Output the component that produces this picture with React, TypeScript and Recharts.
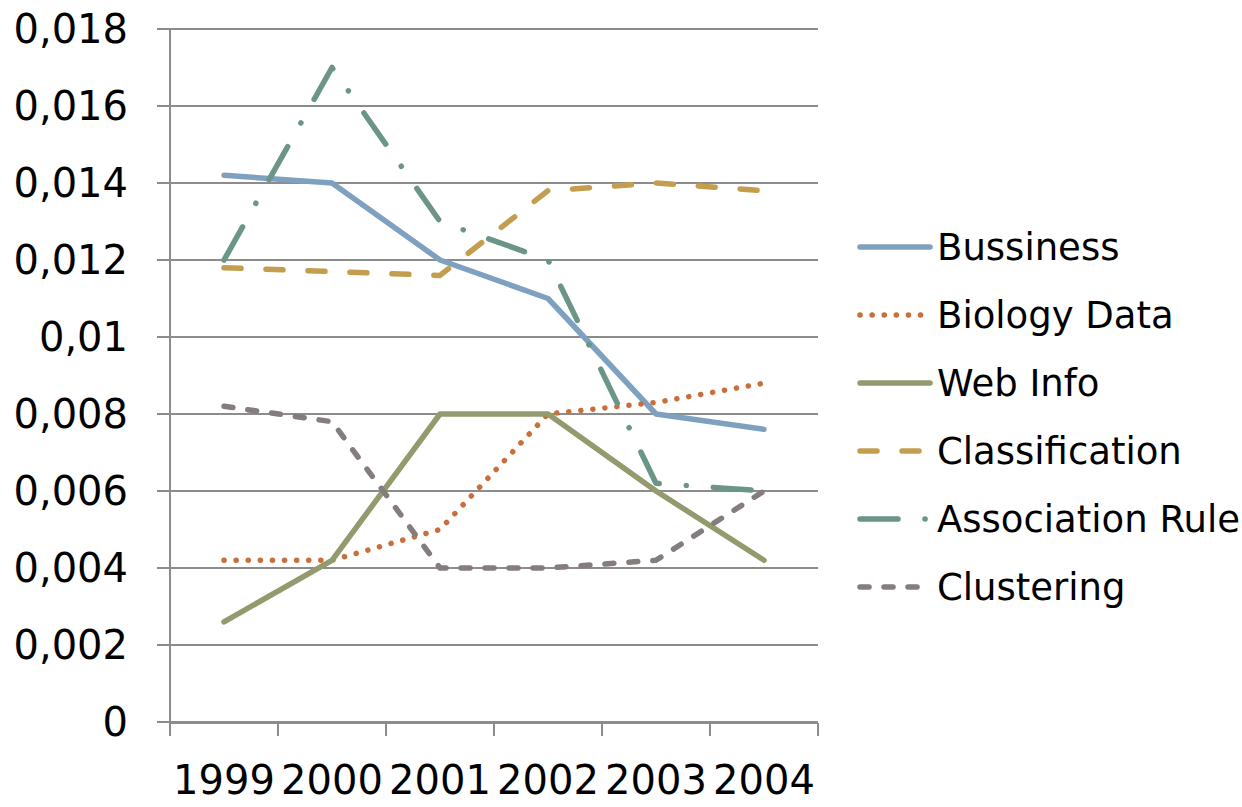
import { LineChart, Line, XAxis, YAxis, CartesianGrid, Legend } from 'recharts';

// yearly values per topic
const years = ['1999', '2000', '2001', '2002', '2003', '2004'];
const bussiness = [0.0142, 0.014, 0.012, 0.011, 0.008, 0.0076];
const biologyData = [0.0042, 0.0042, 0.005, 0.008, 0.0083, 0.0088];
const webInfo = [0.0026, 0.0042, 0.008, 0.008, 0.006, 0.0042];
const classification = [0.0118, 0.0117, 0.0116, 0.0138, 0.014, 0.0138];
const associationRule = [0.012, 0.017, 0.013, 0.012, 0.0062, 0.006];
const clustering = [0.0082, 0.0078, 0.004, 0.004, 0.0042, 0.006];

const yTicks = [0, 0.002, 0.004, 0.006, 0.008, 0.01, 0.012, 0.014, 0.016, 0.018];
// boundaries between year slots (slot i holds years[i]), used only for tick marks
const slotEdges = [-0.5, 0.5, 1.5, 2.5, 3.5, 4.5, 5.5];

const FONT = '"DejaVu Sans", sans-serif';
const AXIS_GRAY = '#8c8c8c';

const series = [
  { key: 'bussiness', name: 'Bussiness', color: '#7fa1c0', dash: undefined },
  { key: 'biologyData', name: 'Biology Data', color: '#c96f3b', dash: '0.1 12' },
  { key: 'webInfo', name: 'Web Info', color: '#939a6d', dash: undefined },
  { key: 'classification', name: 'Classification', color: '#c49e4f', dash: '17 25' },
  { key: 'associationRule', name: 'Association Rule', color: '#6a9587', dash: '38 27 0.1 27' },
  { key: 'clustering', name: 'Clustering', color: '#857c7c', dash: '9 15' },
];

const data = years.map((year, i) => ({
  year,
  bussiness: bussiness[i],
  biologyData: biologyData[i],
  webInfo: webInfo[i],
  classification: classification[i],
  associationRule: associationRule[i],
  clustering: clustering[i],
}));

const formatTick = (v: number) => String(v).replace('.', ',');

const renderLegend = () => (
  <div style={{ fontFamily: FONT, fontSize: 37, color: '#000' }}>
    {series.map((s) => (
      <div key={s.key} style={{ display: 'flex', alignItems: 'center', height: 68 }}>
        <svg width={78} height={10}>
          <line
            x1={3}
            y1={5}
            x2={73}
            y2={5}
            stroke={s.color}
            strokeWidth={5.5}
            strokeLinecap="round"
            strokeDasharray={s.dash}
          />
        </svg>
        <span style={{ marginLeft: 2, whiteSpace: 'nowrap' }}>{s.name}</span>
      </div>
    ))}
  </div>
);

export default function App() {
  return (
    <div style={{ position: 'absolute', left: 0, top: 0, background: '#fff' }}>
      <LineChart width={1242} height={807} data={data} margin={{ top: 29, right: 424, bottom: 0, left: 0 }}>
        <CartesianGrid vertical={false} stroke={AXIS_GRAY} strokeWidth={2} />
        {/* year labels; this axis sits directly on the plot edge */}
        <XAxis
          dataKey="year"
          height={1}
          padding={{ left: 54, right: 54 }}
          axisLine={false}
          tickLine={false}
          tickSize={13}
          tickMargin={31}
          interval={0}
          tick={{ fill: '#000', fontSize: 40, fontFamily: FONT }}
        />
        {/* axis line with tick marks between the years */}
        <XAxis
          xAxisId="frame"
          type="number"
          domain={[0, 5]}
          allowDataOverflow
          padding={{ left: 54, right: 54 }}
          ticks={slotEdges}
          height={84}
          tickSize={13}
          tickFormatter={() => ''}
          axisLine={{ stroke: AXIS_GRAY, strokeWidth: 2 }}
          tickLine={{ stroke: AXIS_GRAY, strokeWidth: 2 }}
        />
        <YAxis
          width={170}
          domain={[0, 0.018]}
          ticks={yTicks}
          tickFormatter={formatTick}
          tickSize={13}
          tickMargin={29}
          axisLine={{ stroke: AXIS_GRAY, strokeWidth: 2 }}
          tickLine={{ stroke: AXIS_GRAY, strokeWidth: 2 }}
          tick={{ fill: '#000', fontSize: 40, fontFamily: FONT }}
        />
        <Legend
          layout="vertical"
          align="center"
          verticalAlign="middle"
          wrapperStyle={{ left: 857, top: 213, width: 385 }}
          content={renderLegend}
        />
        {series.map((s) => (
          <Line
            key={s.key}
            dataKey={s.key}
            name={s.name}
            type="linear"
            stroke={s.color}
            strokeWidth={5.5}
            strokeDasharray={s.dash}
            strokeLinecap="round"
            strokeLinejoin="round"
            dot={false}
            activeDot={false}
            isAnimationActive={false}
          />
        ))}
      </LineChart>
    </div>
  );
}
